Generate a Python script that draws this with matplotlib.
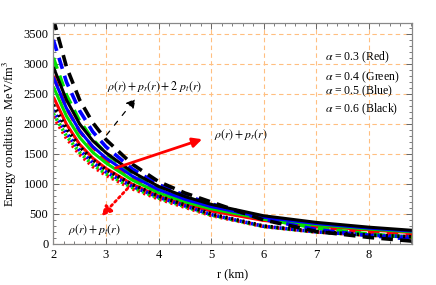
import matplotlib
matplotlib.use("Agg")
import matplotlib.pyplot as plt
from matplotlib.ticker import MultipleLocator

plt.rcParams['font.family'] = ['Liberation Serif', 'DejaVu Serif']
plt.rcParams['mathtext.fontset'] = 'stix'

# radius (km)
r = [2, 2.25, 2.5, 2.75, 3, 3.5, 4, 4.5, 5, 6, 7, 8, 8.82]

# rho + p_r  (solid)
solid_red = [2450, 1995, 1660, 1430, 1260, 995, 800, 658, 550, 392, 300, 234, 190]
solid_green = [2620, 2130, 1775, 1527, 1350, 1065, 853, 702, 586, 418, 320, 249, 202]
solid_blue = [2780, 2262, 1885, 1622, 1433, 1131, 905, 745, 622, 443, 340, 264, 215]
solid_black = [2950, 2400, 2000, 1720, 1520, 1200, 960, 790, 660, 470, 360, 280, 228]

# rho + p_r + 2 p_t  (dashed)
dashed_red = [2800, 2260, 1880, 1610, 1400, 1100, 890, 740, 620, 425, 290, 195, 140]
dashed_green = [3100, 2480, 2050, 1740, 1510, 1180, 940, 780, 650, 420, 265, 165, 110]
dashed_blue = [3400, 2700, 2220, 1870, 1620, 1250, 990, 810, 670, 410, 240, 140, 80]
dashed_black = [3750, 2950, 2400, 2020, 1740, 1330, 1040, 850, 700, 400, 210, 110, 48]

# rho + p_t  (dotted)
dotted_red = [2120, 1760, 1490, 1290, 1145, 920, 750, 612, 475, 290, 198, 146, 116]
dotted_green = [2170, 1800, 1525, 1320, 1170, 940, 765, 623, 482, 292, 200, 147, 117]
dotted_blue = [2230, 1850, 1565, 1355, 1200, 960, 780, 635, 490, 295, 202, 148, 118]
dotted_black = [2320, 1920, 1620, 1400, 1240, 990, 800, 650, 500, 300, 205, 150, 120]

alpha_labels = [r'$\alpha$ = 0.3 (Red)', r'$\alpha$ = 0.4 (Green)',
                r'$\alpha$ = 0.5 (Blue)', r'$\alpha$ = 0.6 (Black)']

colors = ['#ff0000', '#00e000', '#0000ff', '#000000']
solids = [solid_red, solid_green, solid_blue, solid_black]
dasheds = [dashed_red, dashed_green, dashed_blue, dashed_black]
dotteds = [dotted_red, dotted_green, dotted_blue, dotted_black]

fig = plt.figure(figsize=(4.36, 2.85), dpi=100)
ax = fig.add_axes([0.1223, 0.1439, 0.8227, 0.7751])

for c, s, d, p in zip(colors, solids, dasheds, dotteds):
    ax.plot(r, s, color=c, lw=2.2, solid_capstyle='butt')
    ax.plot(r, p, color=c, lw=2.6, ls=(0, (0.6, 1.0)))
    ax.plot(r, d, color=c, lw=2.6, ls=(0, (3.2, 2.0)))

ax.set_xlim(2, 8.82)
ax.set_ylim(0, 3680)
ax.xaxis.set_major_locator(MultipleLocator(1))
ax.xaxis.set_minor_locator(MultipleLocator(0.2))
ax.yaxis.set_major_locator(MultipleLocator(500))
ax.yaxis.set_minor_locator(MultipleLocator(100))
ax.tick_params(which='both', direction='in', top=True, right=True,
               labelsize=9, color='#666666')
ax.tick_params(which='major', length=4, width=0.7)
ax.tick_params(which='minor', length=2, width=0.6)
for sp in ax.spines.values():
    sp.set_color('#888888')
    sp.set_linewidth(0.9)
ax.grid(True, which='major', color='#ffbf80', ls=(0, (4, 3)), lw=0.8)
ax.set_axisbelow(True)

ax.set_xlabel('r (km)', fontsize=9, labelpad=5)
ax.set_ylabel(r'Energy conditions  MeV/fm$^3$', fontsize=9, labelpad=3)

# annotations
ax.annotate('', xy=(3.6, 2460), xytext=(2.98, 1780),
            arrowprops=dict(arrowstyle='-|>', color='k', lw=0.9, ls=(0, (4, 6)),
                            mutation_scale=14))
ax.text(3.02, 2620, r'$\rho(r) + p_r(r) + 2\ p_t(r)$', fontsize=8.5, va='center')

ax.annotate('', xy=(4.88, 1760), xytext=(3.13, 1250),
            arrowprops=dict(arrowstyle='-|>', color='#ff0000', lw=2,
                            mutation_scale=14))
ax.text(5.05, 1820, r'$\rho(r) + p_r(r)$', fontsize=8.5, va='center')

ax.annotate('', xy=(2.88, 430), xytext=(3.45, 960),
            arrowprops=dict(arrowstyle='-|>', color='#ff0000', lw=2, ls=(0, (0.8, 1.2)),
                            mutation_scale=14))
ax.text(2.28, 230, r'$\rho(r) + p_t(r)$', fontsize=8.5, va='center')

for lbl, yv in zip(alpha_labels, [3117, 2783, 2550, 2250]):
    ax.text(7.17, yv, lbl, fontsize=8.5, va='center')

fig.savefig('out.png', dpi=100)
